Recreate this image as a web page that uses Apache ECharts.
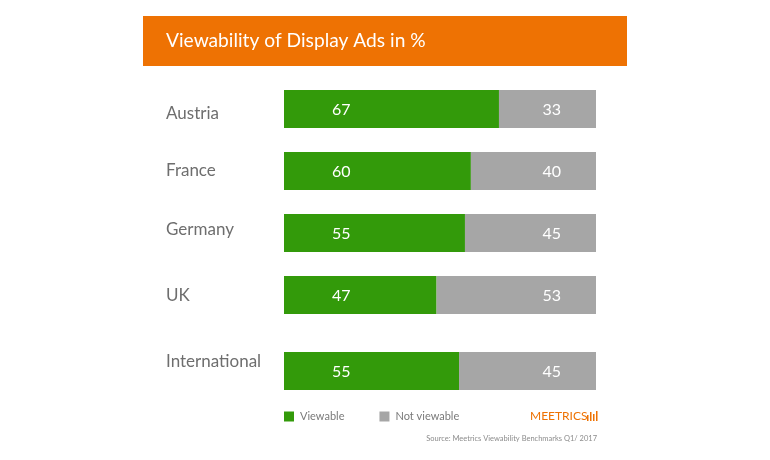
<!DOCTYPE html>
<html lang="en">

<head>
    <meta charset="UTF-8">
    <script src="https://cdn.jsdelivr.net/npm/echarts@6/dist/echarts.min.js"></script>
    <title>Viewability of Display Ads</title>
    <style>
        html, body { margin: 0; padding: 0; background: #fff; }
    </style>
</head>

<body>
    <div id="main" style="width: 770px;height:460px;"></div>
    <script>
        var categories = ['Austria', 'France', 'Germany', 'UK', 'International'];
        // printed numbers
        var viewableLabels = [67, 60, 55, 47, 55];
        var notViewableLabels = [33, 40, 45, 53, 45];
        // segment lengths as measured in the picture, they differ a bit from the printed numbers
        var viewableLengths = [68.9, 59.9, 58, 48.9, 56.1];
        var notViewableLengths = [31.1, 40.1, 42, 51.1, 43.9];

        var FONT = 'Lato';
        var GREEN = '#339A0A';
        var GREY = '#A6A6A6';
        var ORANGE = '#EE7203';

        var myChart = echarts.init(document.getElementById('main'));

        function makeSeries(name, values, labels, color, start, end, gridIdx, pos, dist) {
            var rows = [];
            for (var i = start; i < end; i++) {
                rows.push({ value: values[i], label: { formatter: String(labels[i]) } });
            }
            return {
                name: name,
                type: 'bar',
                stack: 'g' + gridIdx,
                xAxisIndex: gridIdx,
                yAxisIndex: gridIdx,
                barWidth: 38,
                data: rows,
                itemStyle: { color: color },
                label: {
                    show: true,
                    position: pos,
                    distance: dist,
                    offset: [0, 1],
                    color: '#fff',
                    fontFamily: FONT,
                    fontSize: 16
                },
                emphasis: { disabled: true }
            };
        }

        function yAxisFor(gridIdx, names) {
            return {
                type: 'category',
                gridIndex: gridIdx,
                inverse: true,
                data: names,
                axisLine: { show: false },
                axisTick: { show: false },
                axisLabel: {
                    align: 'left',
                    margin: 118,
                    color: '#6E6E6E',
                    fontFamily: FONT,
                    fontSize: 17,
                    // the names do not sit exactly on the bar centres
                    formatter: function (v) { return '{' + v + '|' + v + '}'; },
                    rich: {
                        Austria: { fontFamily: FONT, fontSize: 17, color: '#6E6E6E', padding: [10, 0, 0, 0] },
                        France: { fontFamily: FONT, fontSize: 17, color: '#6E6E6E' },
                        Germany: { fontFamily: FONT, fontSize: 17, color: '#6E6E6E', padding: [0, 0, 6, 0] },
                        UK: { fontFamily: FONT, fontSize: 17, color: '#6E6E6E', padding: [2, 0, 0, 0] },
                        International: { fontFamily: FONT, fontSize: 17, color: '#6E6E6E', padding: [0, 0, 18, 0] }
                    }
                }
            };
        }

        function xAxisFor(gridIdx) {
            return { type: 'value', gridIndex: gridIdx, min: 0, max: 100, show: false };
        }

        var option = {
            backgroundColor: '#fff',
            animation: false,
            title: {
                text: 'Viewability of Display Ads in %',
                left: 166,
                top: 31,
                padding: 0,
                textStyle: { color: '#fff', fontFamily: FONT, fontWeight: 'normal', fontSize: 19.2 }
            },
            legend: {
                data: [
                    { name: 'Viewable', itemStyle: { color: GREEN } },
                    { name: 'Not viewable', itemStyle: { color: GREY } }
                ],
                left: 284,
                top: 411,
                padding: 0,
                icon: 'rect',
                itemWidth: 10,
                itemHeight: 10,
                itemGap: 35,
                selectedMode: false,
                textStyle: { color: '#7A7A7A', fontFamily: FONT, fontSize: 11, padding: [0, 0, 0, 1] }
            },
            // International sits a little apart from the countries, so it has its own grid
            grid: [
                { left: 284, width: 312, top: 78, height: 248 },
                { left: 284, width: 312, top: 340, height: 62 }
            ],
            xAxis: [xAxisFor(0), xAxisFor(1)],
            yAxis: [yAxisFor(0, categories.slice(0, 4)), yAxisFor(1, categories.slice(4))],
            series: [
                makeSeries('Viewable', viewableLengths, viewableLabels, GREEN, 0, 4, 0, 'insideLeft', 48),
                makeSeries('Not viewable', notViewableLengths, notViewableLabels, GREY, 0, 4, 0, 'insideRight', 35),
                makeSeries('Viewable', viewableLengths, viewableLabels, GREEN, 4, 5, 1, 'insideLeft', 48),
                makeSeries('Not viewable', notViewableLengths, notViewableLabels, GREY, 4, 5, 1, 'insideRight', 35)
            ],
            graphic: [
                { type: 'rect', z: -1, shape: { x: 143, y: 16, width: 484, height: 50 }, style: { fill: ORANGE } },
                {
                    type: 'text', x: 530, y: 416,
                    style: { text: 'MEETRICS', fill: ORANGE, font: '12px ' + FONT, verticalAlign: 'middle' }
                },
                { type: 'rect', shape: { x: 587, y: 415, width: 1.5, height: 6 }, style: { fill: ORANGE } },
                { type: 'rect', shape: { x: 590, y: 412, width: 1.5, height: 9 }, style: { fill: ORANGE } },
                { type: 'rect', shape: { x: 593, y: 414, width: 1.5, height: 7 }, style: { fill: ORANGE } },
                { type: 'rect', shape: { x: 596, y: 411, width: 1.5, height: 10 }, style: { fill: ORANGE } },
                {
                    type: 'text', x: 597, y: 439,
                    style: {
                        text: 'Source: Meetrics Viewability Benchmarks Q1/ 2017',
                        fill: '#8C8C8C', font: '7.5px ' + FONT, align: 'right', verticalAlign: 'middle'
                    }
                }
            ]
        };
        myChart.setOption(option);
    </script>
</body>

</html>
